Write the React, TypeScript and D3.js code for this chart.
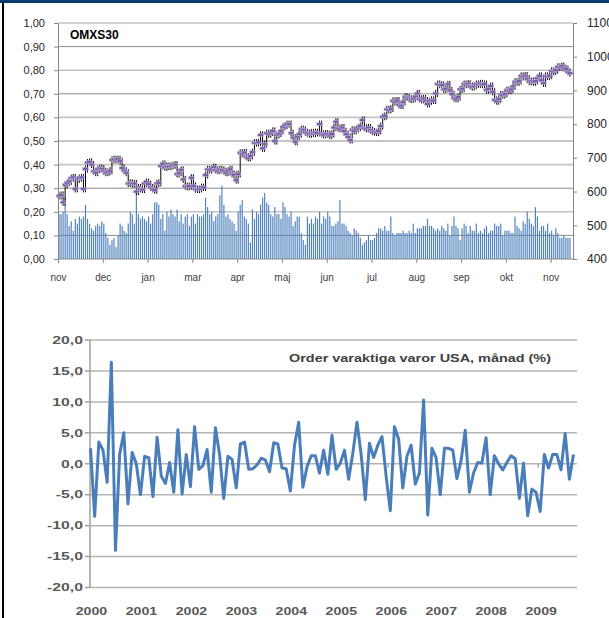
import React, { useEffect, useRef } from 'react';
import * as d3 from 'd3';

// OMXS30 panel
const monthLabels = ['nov', 'dec', 'jan', 'mar', 'apr', 'maj', 'jun', 'jul', 'aug', 'sep', 'okt', 'nov'];
const leftTicks = [0, 0.1, 0.2, 0.3, 0.4, 0.5, 0.6, 0.7, 0.8, 0.9, 1.0];
const rightTicks = [400, 500, 600, 700, 800, 900, 1000, 1100];

// daily close, right axis
const omxClose = [
  587, 590, 568, 620, 626, 630, 640, 642, 608, 636,
  640, 642, 608, 667, 686, 688, 680, 660, 656, 666,
  670, 668, 660, 656, 658, 662, 694, 696, 694, 696,
  690, 670, 662, 656, 624, 626, 622, 624, 600, 612,
  608, 606, 624, 628, 622, 612, 608, 604, 624, 626,
  676, 682, 672, 676, 674, 676, 678, 680, 652, 656,
  664, 636, 616, 614, 616, 641, 617, 607, 606, 608,
  613, 612, 649, 666, 664, 668, 672, 664, 662, 666,
  664, 660, 656, 662, 666, 652, 650, 634, 652, 715,
  712, 716, 703, 700, 706, 717, 745, 744, 746, 768,
  728, 741, 773, 770, 775, 780, 750, 768, 772, 780,
  792, 796, 800, 800, 773, 760, 748, 763, 770, 785,
  783, 776, 773, 770, 775, 772, 776, 774, 800, 771,
  768, 772, 770, 766, 771, 790, 807, 788, 786, 790,
  779, 770, 762, 753, 783, 780, 785, 790, 794, 812,
  789, 786, 790, 782, 778, 776, 775, 780, 794, 822,
  824, 844, 842, 846, 869, 866, 870, 857, 855, 866,
  881, 879, 875, 873, 876, 882, 891, 875, 872, 876,
  870, 860, 868, 872, 870, 891, 919, 917, 916, 903,
  905, 918, 900, 889, 877, 875, 880, 903, 905, 919,
  917, 920, 913, 910, 914, 919, 918, 921, 917, 919,
  901, 905, 913, 896, 872, 868, 874, 888, 886, 890,
  901, 899, 903, 912, 926, 924, 928, 943, 940, 944,
  935, 926, 928, 924, 928, 936, 943, 930, 921, 943,
  941, 944, 958, 956, 960, 970, 968, 972, 966, 963,
  955, 951,
];

// daily bars, left axis
const omxVolume = [
  0.19, 0.19, 0.20, 0.26, 0.19, 0.14, 0.16, 0.12, 0.17, 0.15, 0.18,
  0.17, 0.18, 0.23, 0.17, 0.15, 0.13, 0.12, 0.14, 0.15, 0.14, 0.16,
  0.15, 0.11, 0.09, 0.06, 0.08, 0.09, 0.05, 0.10, 0.15, 0.14, 0.12, 0.11,
  0.15, 0.20, 0.19, 0.15, 0.28, 0.19, 0.17, 0.18, 0.17, 0.16,
  0.18, 0.15, 0.19, 0.24, 0.24, 0.23, 0.17, 0.19, 0.12, 0.20, 0.18, 0.21,
  0.19, 0.18, 0.21, 0.16,
  0.19, 0.15, 0.18, 0.19, 0.14, 0.18, 0.19, 0.15, 0.19, 0.18,
  0.18, 0.19, 0.26, 0.22, 0.19, 0.20, 0.16,
  0.18, 0.19, 0.27, 0.31, 0.23, 0.18,
  0.19, 0.17, 0.16, 0.15, 0.12,
  0.20, 0.23, 0.25, 0.18, 0.17,
  0.15, 0.07, 0.21,
  0.17, 0.20, 0.19, 0.23, 0.26, 0.28, 0.24,
  0.23, 0.19, 0.18, 0.22, 0.19, 0.19, 0.17,
  0.24, 0.22, 0.19, 0.18, 0.20, 0.14, 0.16,
  0.18, 0.18, 0.11, 0.08, 0.06, 0.18, 0.15,
  0.17, 0.15, 0.18, 0.17, 0.20, 0.15, 0.18, 0.17, 0.20, 0.18,
  0.14, 0.14, 0.15, 0.16, 0.25, 0.15, 0.15, 0.14, 0.12, 0.11,
  0.10, 0.13, 0.12, 0.11, 0.09, 0.06, 0.07, 0.08, 0.10, 0.08,
  0.08, 0.09, 0.11, 0.13, 0.13, 0.12, 0.14, 0.12, 0.12, 0.18,
  0.11, 0.10, 0.11, 0.11, 0.11, 0.12, 0.11, 0.11, 0.12, 0.11,
  0.15, 0.11, 0.13, 0.13, 0.13, 0.14, 0.14, 0.17, 0.14, 0.14,
  0.13, 0.12, 0.13, 0.12,
  0.14, 0.13, 0.12, 0.15, 0.10, 0.14, 0.18, 0.14, 0.13, 0.08,
  0.13, 0.15, 0.14, 0.11, 0.14, 0.12, 0.12, 0.15, 0.11, 0.12,
  0.11, 0.13, 0.14, 0.11, 0.12, 0.12, 0.15, 0.14, 0.14, 0.15,
  0.10, 0.12, 0.12, 0.12, 0.11, 0.11, 0.18, 0.14, 0.13, 0.12,
  0.16, 0.15, 0.20, 0.17, 0.15, 0.14, 0.22, 0.18, 0.12, 0.14,
  0.14, 0.12, 0.15, 0.11, 0.12, 0.10, 0.13, 0.11, 0.09, 0.09,
  0.10, 0.09, 0.09, 0.09,
];

// Order varaktiga varor USA, monthly %, jan 2000 onwards
const orderYears = ['2000', '2001', '2002', '2003', '2004', '2005', '2006', '2007', '2008', '2009'];
const orderTicks = [-20, -15, -10, -5, 0, 5, 10, 15, 20];
const orderValues = [
  2.5, -8.5, 3.5, 2.2, -3.0, 16.4, -14.0, 1.5, 5.0, -6.5, 1.8, 0.0,
  -5.0, 1.2, 1.0, -5.3, 4.3, -2.0, -3.2, 0.2, -4.6, 5.5, -4.9, 1.5,
  -3.7, 6.0, -0.9, -0.3, 2.3, -4.6, 5.8, 1.5, -5.6, 1.2, 0.7, -3.9,
  3.2, 3.5, -0.9, -0.8, -0.2, 0.9, 0.6, -1.3, 3.4, 3.2, -0.7, -0.8,
  -4.4, 3.0, 6.7, -3.8, -0.5, 1.3, 1.3, -1.5, 2.2, -1.7, 4.6, -0.9,
  0.1, 2.2, -2.5, 1.7, 6.7, 1.5, -5.8, 3.3, 1.0, 3.0, 4.4, -2.0,
  -7.6, 6.0, 4.0, -3.9, 1.2, 3.0, -3.3, -1.5, 10.3, -8.3, 2.5, 1.0,
  -5.0, 2.5, 2.5, 2.2, -2.4, 0.5, 5.4, -4.6, -1.5, 0.2, 0.1, 4.2,
  -5.0, 1.3, 0.0, -1.0, 0.2, 1.3, 0.8, -5.6, 0.1, -8.4, -4.1, -4.6,
  -7.7, 1.5, -0.7, 1.5, 1.5, -1.0, 4.9, -2.5, 1.5,
];

const font = '"Liberation Sans", Arial, sans-serif';
const comma = (v: number, d: number) => v.toFixed(d).replace('.', ',');

const App = () => {
  const ref = useRef<SVGSVGElement>(null);

  useEffect(() => {
    const svg = d3.select(ref.current);
    svg.selectAll('*').remove();

    // page frame
    svg.append('rect').attr('width', 609).attr('height', 618).attr('fill', '#fff');
    svg.append('rect').attr('width', 609).attr('height', 3).attr('fill', '#0e3a6b');
    svg.append('rect').attr('x', 2).attr('y', 3).attr('width', 2).attr('height', 615).attr('fill', '#000');

    // ---------- OMXS30 ----------
    const n = omxClose.length;
    const x = d3.scaleLinear().domain([0, n]).range([58, 571]);
    const yL = d3.scaleLinear().domain([0, 1]).range([259, 23]);
    const yR = d3.scaleLinear().domain([400, 1100]).range([259, 23]);

    const top = svg.append('g');

    top.selectAll('line.grid')
      .data(leftTicks.slice(1))
      .join('line')
      .attr('x1', 58).attr('x2', 573)
      .attr('y1', d => yL(d)).attr('y2', d => yL(d))
      .attr('stroke', (d, i) => (i % 2 === 0 ? '#8a8a8a' : '#c4c4c4'))
      .attr('stroke-width', (d, i) => (i % 2 === 0 ? 1 : 1.6));

    // bars
    top.append('g')
      .selectAll('rect')
      .data(omxVolume)
      .join('rect')
      .attr('x', (d, i) => x(i) + 0.45)
      .attr('width', 1.15)
      .attr('y', d => yL(d))
      .attr('height', d => yL(0) - yL(d))
      .attr('fill', '#4f81bd');

    // high-low lines
    top.append('g')
      .selectAll('line')
      .data(omxClose)
      .join('line')
      .attr('x1', (d, i) => x(i + 0.5)).attr('x2', (d, i) => x(i + 0.5))
      .attr('y1', (d, i) => yR(Math.max(d, omxClose[Math.max(i - 1, 0)])) - 3.5)
      .attr('y2', (d, i) => yR(Math.min(d, omxClose[Math.max(i - 1, 0)])) + 3.5)
      .attr('stroke', '#000')
      .attr('stroke-width', 1);

    // close markers
    top.append('g')
      .selectAll('rect')
      .data(omxClose)
      .join('rect')
      .attr('x', (d, i) => x(i + 0.5) - 2.8)
      .attr('y', d => yR(d) - 1.4)
      .attr('width', 5.6)
      .attr('height', 2.8)
      .attr('fill', '#7a5ea6')
      .attr('stroke', '#c3b8dc')
      .attr('stroke-width', 0.5);

    // axes
    const axL = top.append('g')
      .attr('transform', 'translate(58,0)')
      .call(d3.axisLeft(yL).tickValues(leftTicks).tickFormat(d => comma(+d, 2)).tickSize(4).tickSizeOuter(0).tickPadding(9));
    const axR = top.append('g')
      .attr('transform', 'translate(573,0)')
      .call(d3.axisRight(yR).tickValues(rightTicks).tickFormat(d => String(d)).tickSize(4).tickSizeOuter(0).tickPadding(10));
    const monthIdx = monthLabels.map((m, i) => i * 22);
    const axB = top.append('g')
      .attr('transform', 'translate(0,259)')
      .call(d3.axisBottom(x).tickValues(monthIdx).tickFormat((d, i) => monthLabels[i]).tickSize(4).tickSizeOuter(0).tickPadding(11));
    axB.select('.domain').attr('d', 'M58,0H573');

    [axL, axR, axB].forEach(a => {
      a.select('.domain').attr('stroke', '#868686');
      a.selectAll('.tick line').attr('stroke', '#868686');
      a.selectAll('text').attr('font-family', font).attr('fill', '#262626');
    });
    axL.selectAll('text').attr('font-size', 11);
    axR.selectAll('text').attr('font-size', 12);
    axB.selectAll('text').attr('font-size', 10).attr('fill', '#404040');

    top.append('text')
      .attr('x', 70).attr('y', 39)
      .attr('font-family', font).attr('font-size', 12).attr('font-weight', 'bold')
      .text('OMXS30');

    // ---------- Order varaktiga varor ----------
    const xo = d3.scaleLinear().domain([0, orderValues.length - 1]).range([90.5, 573.5]);
    const yo = d3.scaleLinear().domain([-20, 20]).range([587.5, 340]);
    const bot = svg.append('g');

    bot.selectAll('line.grid')
      .data(orderTicks)
      .join('line')
      .attr('x1', 90).attr('x2', 577)
      .attr('y1', d => yo(d)).attr('y2', d => yo(d))
      .attr('stroke', '#b4b4b4').attr('stroke-width', 1.5);

    bot.append('line')
      .attr('x1', 90).attr('x2', 90).attr('y1', yo(20)).attr('y2', yo(-20))
      .attr('stroke', '#a0a0a0').attr('stroke-width', 1.5);
    bot.selectAll('line.ytick')
      .data(orderTicks)
      .join('line')
      .attr('x1', 85).attr('x2', 90)
      .attr('y1', d => yo(d)).attr('y2', d => yo(d))
      .attr('stroke', '#a0a0a0').attr('stroke-width', 1.5);
    bot.selectAll('line.xtick')
      .data([35.5, 71.5, 107.5])
      .join('line')
      .attr('x1', d => xo(d)).attr('x2', d => xo(d))
      .attr('y1', yo(0)).attr('y2', yo(0) + 4)
      .attr('stroke', '#a0a0a0').attr('stroke-width', 1.2);

    bot.selectAll('text.ylab')
      .data(orderTicks)
      .join('text')
      .attr('transform', d => `translate(83,${yo(d) + 3.8}) scale(1.5,1)`)
      .attr('text-anchor', 'end')
      .attr('font-family', font).attr('font-size', 10.5).attr('font-weight', 'bold')
      .attr('fill', '#595959')
      .text(d => comma(d, 1));

    bot.selectAll('text.xlab')
      .data(orderYears)
      .join('text')
      .attr('transform', (d, i) => `translate(${xo(i * 12) + 1},615) scale(1.35,1)`)
      .attr('text-anchor', 'middle')
      .attr('font-family', font).attr('font-size', 10.5).attr('font-weight', 'bold')
      .attr('fill', '#595959')
      .text(d => d);

    const line = d3.line<number>().x((d, i) => xo(i)).y(d => yo(d));
    bot.append('path')
      .attr('d', line(orderValues))
      .attr('fill', 'none')
      .attr('stroke', '#4a7ebb')
      .attr('stroke-width', 3)
      .attr('stroke-linejoin', 'round');

    bot.append('text')
      .attr('x', 289).attr('y', 362)
      .attr('font-family', font).attr('font-size', 11.5).attr('font-weight', 'bold')
      .attr('fill', '#404040')
      .attr('textLength', 262).attr('lengthAdjust', 'spacingAndGlyphs')
      .text('Order varaktiga varor USA, månad (%)');
  }, []);

  return (
    <svg ref={ref} width={609} height={618} style={{ position: 'absolute', left: 0, top: 0 }}></svg>
  );
};

export default App;
